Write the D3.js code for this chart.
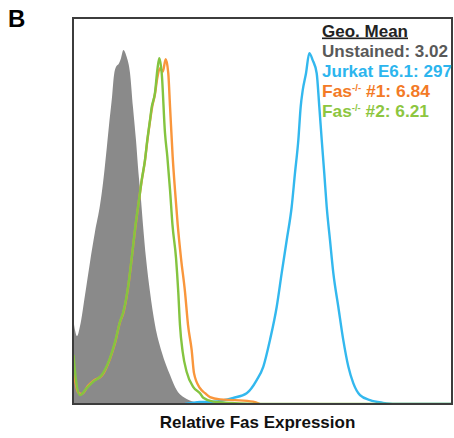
<!DOCTYPE html>
<html>
<head>
<meta charset="utf-8">
<script src="https://cdn.jsdelivr.net/npm/d3@7"></script>
<style>
  body { margin: 0; background: #fff; }
  svg { display: block; font-family: "Liberation Sans", Arial, sans-serif; }
</style>
</head>
<body>
<svg id="chart" width="454" height="438"></svg>
<script>
// x = log10 fluorescence (decades), y = % of max
const unstained = [
  [0, 21.8], [0.021, 19.2], [0.043, 17.6], [0.075, 20.2], [0.128, 28.2], [0.182, 36.8],
  [0.235, 44.6], [0.289, 51.6], [0.321, 57.3], [0.353, 64.5], [0.385, 72.3], [0.414, 78.8],
  [0.438, 85.2], [0.459, 87.3], [0.492, 88.3], [0.513, 89.6], [0.538, 91.7], [0.574, 89.9],
  [0.609, 85.8], [0.641, 76.9], [0.673, 68.4], [0.700, 59.8], [0.727, 52.8], [0.748, 46.4],
  [0.780, 37.8], [0.823, 29.0], [0.876, 20.5], [0.948, 13.5], [1.037, 7.5], [1.108, 3.6],
  [1.215, 1.3], [1.325, 0.4], [1.464, 0]
];

const jurkat = [
  [1.197, 0], [1.357, 0.5], [1.496, 0.6], [1.713, 1.6], [1.856, 2.8], [1.963, 6.2],
  [2.034, 9.7], [2.105, 16.6], [2.177, 25.2], [2.230, 33.9], [2.284, 42.5], [2.337, 51.1],
  [2.372, 59.8], [2.408, 68.4], [2.433, 77.0], [2.455, 81.3], [2.490, 85.7], [2.525, 90.9],
  [2.561, 89.1], [2.604, 85.7], [2.632, 77.0], [2.658, 68.4], [2.685, 59.8], [2.711, 51.1],
  [2.746, 42.5], [2.782, 33.9], [2.835, 25.2], [2.888, 16.6], [2.942, 9.7], [2.995, 5.4],
  [3.067, 2.3], [3.174, 1.0], [3.313, 0.3], [3.441, 0], [4.05, 0]
];

const fas1 = [
  [0.005, 8.8], [0.053, 3.1], [0.096, 2.6], [0.160, 4.7], [0.217, 6.0], [0.307, 7.3],
  [0.395, 11.7], [0.449, 15.8], [0.502, 21.2], [0.538, 23.6], [0.591, 30.6], [0.627, 37.6],
  [0.668, 46.1], [0.705, 52.8], [0.734, 57.8], [0.769, 63.0], [0.794, 68.1], [0.823, 73.3],
  [0.844, 76.7], [0.876, 80.3], [0.901, 84.5], [0.929, 87.0], [0.959, 86.1], [0.991, 89.3],
  [1.018, 85.7], [1.037, 77.0], [1.065, 64.1], [1.090, 55.4], [1.119, 46.4], [1.154, 37.8],
  [1.197, 29.0], [1.229, 20.5], [1.268, 14.0], [1.293, 8.0], [1.357, 4.1], [1.411, 2.8],
  [1.464, 1.8], [1.571, 1.2], [1.731, 1.0], [1.923, 0.6], [1.998, 0]
];

const fas2 = [
  [0.005, 12.7], [0.032, 6.2], [0.075, 2.3], [0.146, 4.1], [0.217, 5.8], [0.307, 7.5],
  [0.395, 11.9], [0.449, 16.1], [0.502, 21.3], [0.538, 23.9], [0.591, 30.8], [0.627, 37.8],
  [0.668, 46.4], [0.705, 52.8], [0.734, 58.0], [0.769, 63.2], [0.794, 68.4], [0.823, 73.6],
  [0.841, 76.9], [0.876, 80.6], [0.901, 86.5], [0.922, 89.6], [0.948, 85.7], [0.983, 70.2],
  [1.008, 64.1], [1.037, 55.4], [1.063, 46.4], [1.101, 37.8], [1.125, 29.0], [1.143, 20.5],
  [1.172, 13.5], [1.215, 8.3], [1.286, 4.4], [1.357, 2.8], [1.392, 1.6], [1.499, 0.6],
  [1.678, 0.3], [1.998, 0], [4.05, 0]
];

const legendTitle = 'Geo. Mean';
const legendNames = ['Unstained', 'Jurkat E6.1', 'Fas', 'Fas'];
const legendSups = ['', '', '-/-', '-/-'];
const legendTags = ['', '', ' #1', ' #2'];
const geoMeans = ['3.02', '297', '6.84', '6.21'];
const colors = ['#595959', '#2cb5ee', '#f37a26', '#8dc63f'];
const lineColors = ['#8a8a8a', '#33b8ee', '#f9963c', '#84c440'];

const svg = d3.select('#chart');
const plotLeft = 73, plotRight = 452, plotTop = 18, plotBottom = 404;

const x = d3.scaleLinear().domain([0, 4.05]).range([plotLeft, plotRight]);
const y = d3.scaleLinear().domain([0, 100]).range([plotBottom, plotTop]);

svg.append('defs').append('clipPath').attr('id', 'plot')
  .append('rect').attr('x', plotLeft).attr('y', plotTop)
  .attr('width', plotRight - plotLeft).attr('height', plotBottom - plotTop);

const g = svg.append('g').attr('clip-path', 'url(#plot)');

const area = d3.area()
  .curve(d3.curveMonotoneX)
  .x(d => x(d[0]))
  .y0(y(0))
  .y1(d => y(d[1]));

const line = d3.line()
  .curve(d3.curveMonotoneX)
  .x(d => x(d[0]))
  .y(d => y(d[1]));

g.append('path')
  .attr('d', area([[0, 0]].concat(unstained)))
  .attr('fill', lineColors[0]);

[[jurkat, 1], [fas1, 2], [fas2, 3]].forEach(([data, i]) => {
  g.append('path')
    .attr('d', line(data))
    .attr('fill', 'none')
    .attr('stroke', lineColors[i])
    .attr('stroke-width', 2.4)
    .attr('stroke-linejoin', 'round');
});

// frame
svg.append('rect')
  .attr('x', plotLeft).attr('y', plotTop)
  .attr('width', plotRight - plotLeft).attr('height', plotBottom - plotTop)
  .attr('fill', 'none')
  .attr('stroke', '#3c3c3c')
  .attr('stroke-width', 2);

// legend (text stretched a bit, like the source figure)
const lx = 322;
const legendWidths = [126, 130, 108, 107];
svg.append('text')
  .attr('x', lx).attr('y', 36.5)
  .attr('font-size', 16.5).attr('font-weight', 'bold')
  .attr('fill', '#222')
  .attr('text-decoration', 'underline')
  .attr('textLength', 86).attr('lengthAdjust', 'spacingAndGlyphs')
  .text(legendTitle);

legendNames.forEach((name, i) => {
  const t = svg.append('text')
    .attr('x', lx).attr('y', 57 + i * 20)
    .attr('font-size', 16.5).attr('font-weight', 'bold')
    .attr('fill', colors[i])
    .attr('textLength', legendWidths[i]).attr('lengthAdjust', 'spacingAndGlyphs');
  t.append('tspan').text(name);
  if (legendSups[i]) {
    t.append('tspan').attr('font-size', 9).attr('dy', -6).text(legendSups[i]);
    t.append('tspan').attr('dy', 6).text(legendTags[i] + ': ' + geoMeans[i]);
  } else {
    t.append('tspan').text(': ' + geoMeans[i]);
  }
});

svg.append('text')
  .attr('x', (plotLeft + plotRight) / 2 - 5).attr('y', 428)
  .attr('text-anchor', 'middle')
  .attr('font-size', 17).attr('font-weight', 'bold')
  .attr('fill', '#111')
  .text('Relative Fas Expression');

svg.append('text')
  .attr('x', 8).attr('y', 27)
  .attr('font-size', 24).attr('font-weight', 'bold')
  .attr('fill', '#000')
  .text('B');
</script>
</body>
</html>
